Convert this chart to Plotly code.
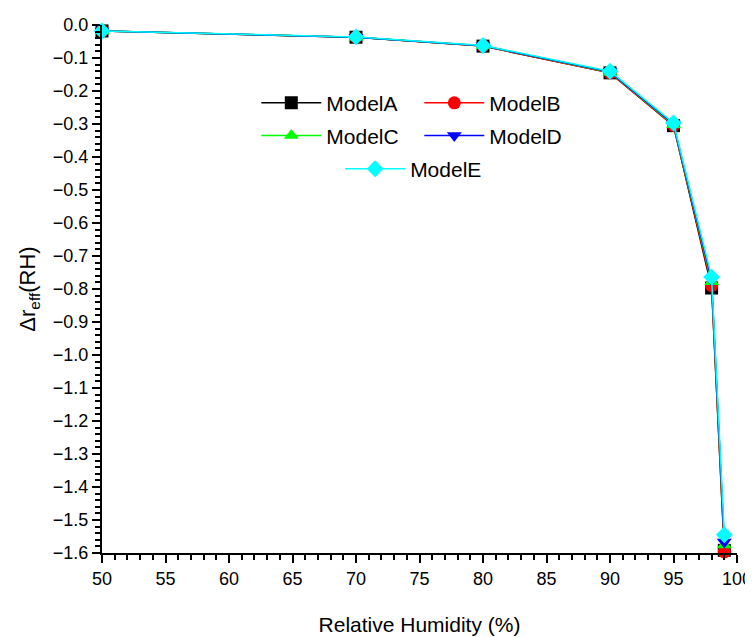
import plotly.graph_objects as go

rh = [50, 70, 80, 90, 95, 98, 99]
model_a = [-0.018, -0.037, -0.064, -0.145, -0.305, -0.797, -1.592]
model_b = [-0.018, -0.037, -0.064, -0.145, -0.304, -0.790, -1.597]
model_c = [-0.018, -0.037, -0.063, -0.143, -0.302, -0.778, -1.576]
model_d = [-0.018, -0.037, -0.063, -0.142, -0.300, -0.772, -1.567]
model_e = [-0.018, -0.036, -0.062, -0.140, -0.297, -0.764, -1.545]

names = ["ModelA", "ModelB", "ModelC", "ModelD", "ModelE"]
series = [model_a, model_b, model_c, model_d, model_e]
colors = ["#000000", "#ff0000", "#00ff00", "#0000ff", "#00ffff"]
symbols = ["square", "circle", "triangle-up", "triangle-down", "diamond"]
legends = ["legend", "legend", "legend2", "legend2", "legend3"]

FONT = "Liberation Sans, Arial, sans-serif"

fig = go.Figure()
for n, s, c, sym, lg in zip(names, series, colors, symbols, legends):
    fig.add_trace(go.Scatter(
        x=rh, y=s, name=n, mode="lines+markers",
        line=dict(color=c, width=1.5),
        marker=dict(symbol=sym, size=13, color=c),
        cliponaxis=False, legend=lg,
    ))

axis_common = dict(
    showline=True, linecolor="black", linewidth=2,
    ticks="outside", ticklen=8, tickwidth=2, tickcolor="black",
    showgrid=False, zeroline=False, mirror=False, automargin=False,
    tickfont=dict(family=FONT, size=18, color="black"),
)

fig.update_xaxes(
    range=[50, 100], dtick=5, tick0=50,
    minor=dict(ticks="outside", ticklen=5, tickwidth=1.5, dtick=1, tickcolor="black"),
    title=dict(text="Relative Humidity (%)", font=dict(family=FONT, size=21, color="black"), standoff=30),
    **axis_common,
)
fig.update_yaxes(
    range=[-1.6, 0], dtick=0.1, tick0=0, tickformat=".1f",
    minor=dict(ticks="outside", ticklen=5, tickwidth=1.5, dtick=0.02, tickcolor="black"),
    title=dict(text="Δr<sub>eff</sub>(RH)", font=dict(family=FONT, size=22, color="black"), standoff=11),
    **axis_common,
)

leg_common = dict(
    orientation="h", xref="paper", yref="paper", xanchor="left", yanchor="middle",
    bgcolor="rgba(0,0,0,0)", borderwidth=0,
    font=dict(family=FONT, size=21, color="black"),
    itemwidth=60, entrywidth=88, entrywidthmode="pixels",
)

fig.update_layout(
    width=753, height=637,
    margin=dict(l=94, r=24, t=17, b=92),
    plot_bgcolor="white", paper_bgcolor="white",
    showlegend=True,
    legend=dict(x=0.243, y=0.852, **leg_common),
    legend2=dict(x=0.243, y=0.790, **leg_common),
    legend3=dict(x=0.375, y=0.727, **leg_common),
)

fig.write_html("out.html")
